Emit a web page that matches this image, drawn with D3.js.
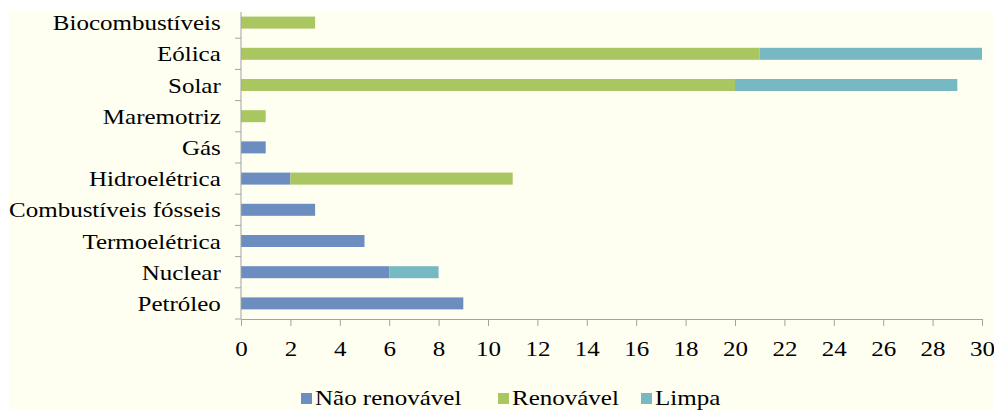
<!DOCTYPE html>
<html>
<head>
<meta charset="utf-8">
<script src="https://cdn.jsdelivr.net/npm/d3@7"></script>
<style>
  html, body { margin: 0; padding: 0; background: #ffffff; }
</style>
</head>
<body>
<div id="chart"></div>
<script>
// categories, top to bottom as in the picture
const categories = ["Biocombustíveis", "Eólica", "Solar", "Maremotriz", "Gás",
	"Hidroelétrica", "Combustíveis fósseis", "Termoelétrica", "Nuclear", "Petróleo"];

// series values (stacked left to right)
const naoRenovavel = [0, 0, 0, 0, 1, 2, 3, 5, 6, 9];
const renovavel    = [3, 21, 20, 1, 0, 9, 0, 0, 0, 0];
const limpa        = [0, 9, 9, 0, 0, 0, 0, 0, 2, 0];

// x axis ticks
const xTicks = [0, 2, 4, 6, 8, 10, 12, 14, 16, 18, 20, 22, 24, 26, 28, 30];

const seriesNames = ["Não renovável", "Renovável", "Limpa"];
const COLORS = ["#6b8dc0", "#a9c661", "#77b9c3"];

const W = 994, H = 410;
const margin = {top: 7, left: 241, right: 12, bottom: 91};
const bgTop = 12, bgLeft = 9;
const stretch = 1.19; // text in the picture is widened horizontally
const fontSize = 21;
const FONT = "'Liberation Serif', 'Times New Roman', serif";

const svg = d3.select("#chart").append("svg")
	.attr("width", W)
	.attr("height", H);

// chart area background
svg.append("rect")
	.attr("x", bgLeft).attr("y", bgTop)
	.attr("width", W - bgLeft).attr("height", H - bgTop)
	.attr("fill", "#fefef1");

// table built from the arrays
const rows = categories.map(function(c, i) {
	return {cat: c, nao: naoRenovavel[i], ren: renovavel[i], limpa: limpa[i]};
});
const keys = ["nao", "ren", "limpa"];
const stacked = d3.stack().keys(keys)(rows);

const x = d3.scaleLinear()
	.domain([0, 30])
	.range([margin.left, W - margin.right]);

const slot = d3.scaleBand()
	.domain(categories)
	.range([margin.top, H - margin.bottom]);

const barH = 12;

// bars
stacked.forEach(function(layer, k) {
	svg.append("g")
		.selectAll("rect")
		.data(layer)
		.enter()
		.append("rect")
		.attr("x", d => x(d[0]))
		.attr("y", d => slot(d.data.cat) + (slot.bandwidth() - barH) / 2)
		.attr("width", d => Math.max(0, x(d[1]) - x(d[0])))
		.attr("height", barH)
		.attr("fill", COLORS[k]);
});

const axisColor = "#a3a3a3";

// X AXIS
const xAxis = svg.append("g")
	.attr("transform", `translate(0, ${H - margin.bottom})`)
	.call(d3.axisBottom(x).tickValues(xTicks).tickSize(7).tickPadding(15).tickSizeOuter(0));
xAxis.select(".domain").attr("stroke", axisColor);
xAxis.selectAll(".tick line").attr("stroke", axisColor);
xAxis.selectAll(".tick text")
	.style("font-family", FONT)
	.style("font-size", fontSize + "px")
	.attr("fill", "#000")
	.attr("transform", `scale(${stretch},1)`);

// Y AXIS labels (ticks drawn separately, between categories)
const yAxis = svg.append("g")
	.attr("transform", `translate(${margin.left}, 0)`)
	.call(d3.axisLeft(slot).tickSize(0).tickPadding(17));
yAxis.select(".domain").remove();
yAxis.selectAll(".tick text")
	.style("font-family", FONT)
	.style("font-size", fontSize + "px")
	.attr("fill", "#000")
	.attr("dy", "0.36em")
	.attr("transform", `scale(${stretch},1)`);

// y axis line and boundary ticks
svg.append("line")
	.attr("x1", margin.left).attr("x2", margin.left)
	.attr("y1", Math.max(margin.top, bgTop)).attr("y2", H - margin.bottom)
	.attr("stroke", axisColor);
const bounds = categories.slice(1).map(c => slot(c)).concat([H - margin.bottom]);
svg.append("g").selectAll("line")
	.data(bounds)
	.enter()
	.append("line")
	.attr("x1", margin.left - 6).attr("x2", margin.left)
	.attr("y1", d => d).attr("y2", d => d)
	.attr("stroke", axisColor);

// LEGEND
const legendX = [301, 498, 641];
const legendY = 398;
seriesNames.forEach(function(name, i) {
	const g = svg.append("g").attr("transform", `translate(${legendX[i]}, ${legendY})`);
	g.append("rect")
		.attr("x", 0).attr("y", -5)
		.attr("width", 11).attr("height", 11)
		.attr("fill", COLORS[i]);
	g.append("text")
		.attr("transform", `translate(14,0) scale(${stretch},1)`)
		.attr("y", 7)
		.style("font-family", FONT)
		.style("font-size", fontSize + "px")
		.attr("fill", "#000")
		.text(name);
});
</script>
</body>
</html>
